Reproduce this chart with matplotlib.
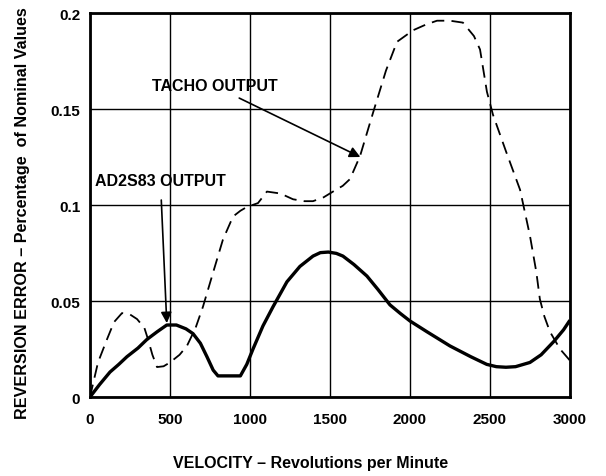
import numpy as np
import matplotlib.pyplot as plt

# AD2S83 output (solid)
ad_rpm = [0, 60, 125, 180, 231, 300, 356, 420, 480, 540, 600, 644, 690, 731, 770, 800,
          940, 980, 1019, 1081, 1144, 1231, 1312, 1394, 1440, 1490, 1540, 1581, 1650,
          1731, 1800, 1875, 1940, 2000, 2106, 2250, 2380, 2480, 2540, 2600, 2660, 2750,
          2820, 2900, 2960, 3000]
ad_err = [0.0, 0.0065, 0.013, 0.017, 0.021, 0.0255, 0.030, 0.034, 0.0375, 0.0375,
          0.0355, 0.033, 0.028, 0.021, 0.014, 0.011, 0.011, 0.017, 0.025, 0.037, 0.047,
          0.060, 0.068, 0.0734, 0.0752, 0.0755, 0.0748, 0.0734, 0.069, 0.063, 0.056,
          0.048, 0.0435, 0.0396, 0.034, 0.0266, 0.021, 0.017, 0.0158, 0.0155, 0.0158,
          0.018, 0.022, 0.029, 0.035, 0.040]

# tacho output (dashed)
ta_rpm = [0, 50, 106, 150, 200, 250, 294, 340, 363, 390, 419, 460, 500, 560, 606, 660,
          706, 770, 831, 894, 940, 981, 1050, 1106, 1190, 1269, 1340, 1394, 1460, 1519,
          1580, 1625, 1688, 1769, 1850, 1919, 2019, 2100, 2169, 2250, 2331, 2400, 2438,
          2481, 2519, 2600, 2688, 2750, 2790, 2812, 2840, 2875, 2938, 3000]
ta_err = [0.0, 0.018, 0.030, 0.039, 0.0437, 0.043, 0.0406, 0.036, 0.030, 0.022, 0.0156,
          0.016, 0.018, 0.022, 0.0266, 0.036, 0.047, 0.065, 0.082, 0.094, 0.097, 0.099,
          0.101, 0.107, 0.106, 0.103, 0.102, 0.102, 0.104, 0.107, 0.110, 0.1135, 0.1255,
          0.148, 0.170, 0.185, 0.191, 0.194, 0.196, 0.196, 0.195, 0.188, 0.181, 0.159,
          0.147, 0.128, 0.108, 0.084, 0.065, 0.051, 0.042, 0.034, 0.025, 0.019]

xticks = [0, 500, 1000, 1500, 2000, 2500, 3000]
yticks = [0, 0.05, 0.1, 0.15, 0.2]
ytick_labels = ["0", "0.05", "0.1", "0.15", "0.2"]

plt.rcParams['font.family'] = ['Liberation Sans', 'DejaVu Sans']
plt.rcParams['font.weight'] = 'bold'

fig = plt.figure(figsize=(6.06, 4.77), dpi=100)
ax = fig.add_axes([0.1485, 0.1656, 0.792, 0.805])

ax.plot(ad_rpm, ad_err, color='black', lw=2.4, solid_capstyle='butt', solid_joinstyle='round')
ax.plot(ta_rpm, ta_err, color='black', lw=1.3, dashes=(7, 4))

ax.set_xlim(0, 3000)
ax.set_ylim(0, 0.2)
ax.set_xticks(xticks)
ax.set_yticks(yticks)
ax.set_yticklabels(ytick_labels)
ax.grid(True, color='black', lw=1.0)
ax.tick_params(axis='x', length=0, labelsize=11, pad=11)
ax.tick_params(axis='y', length=0, labelsize=11, pad=7)
for lbl in ax.get_xticklabels() + ax.get_yticklabels():
    lbl.set_fontweight('bold')
for s in ax.spines.values():
    s.set_linewidth(2)

ax.set_xlabel("VELOCITY \u2013 Revolutions per Minute", fontsize=11.5, fontweight='bold')
ax.xaxis.set_label_coords(0.46, -0.151)
ax.set_ylabel("REVERSION ERROR \u2013 Percentage  of Nominal Values", fontsize=11.6,
              fontweight='bold')
ax.yaxis.set_label_coords(-0.125, 0.482)

ax.annotate("TACHO OUTPUT", xy=(1690, 0.125), xytext=(1170, 0.162),
            fontsize=11.5, fontweight='bold', ha='right', va='center',
            arrowprops=dict(arrowstyle='-|>', color='black', lw=1.2,
                            mutation_scale=16, shrinkA=3, shrinkB=0))
ax.annotate("AD2S83 OUTPUT", xy=(480, 0.0385), xytext=(440, 0.113),
            fontsize=11.5, fontweight='bold', ha='center', va='center',
            arrowprops=dict(arrowstyle='-|>', color='black', lw=1.2,
                            mutation_scale=16, shrinkA=7, shrinkB=0))

fig.savefig('out.png', dpi=100)
